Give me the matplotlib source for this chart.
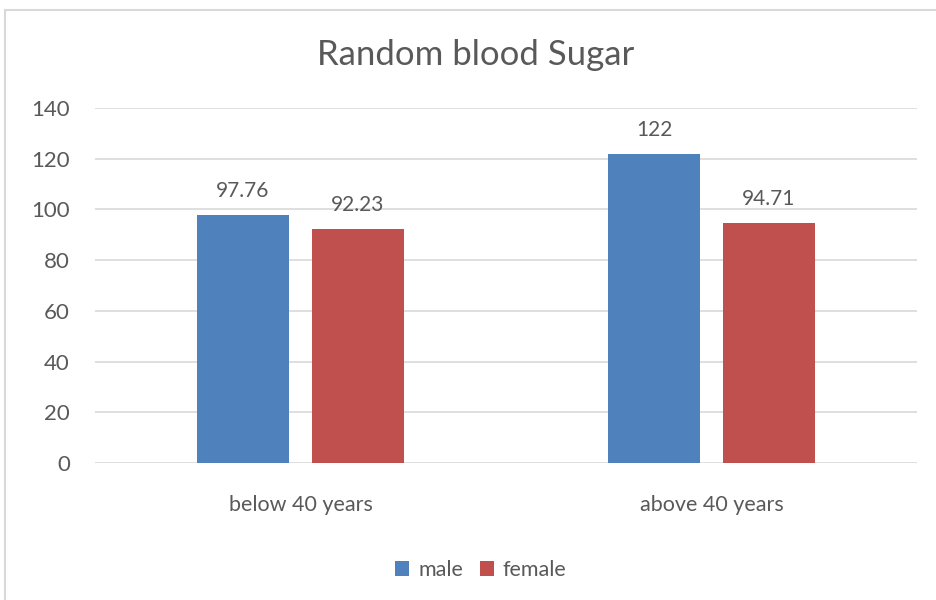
import matplotlib
matplotlib.use("Agg")
import matplotlib.pyplot as plt
import numpy as np
from matplotlib.patches import Rectangle

categories = ["below 40 years", "above 40 years"]
male = [97.76, 122]
female = [92.23, 94.71]
male_labels = ["97.76", "122"]
female_labels = ["92.23", "94.71"]

TEXT = "#595959"
BLUE = "#4F81BD"
RED = "#C0504D"

plt.rcParams["font.family"] = ["Lato", "DejaVu Sans"]

fig = plt.figure(figsize=(9.37, 6.0), dpi=100)
fig.patch.set_facecolor("white")
fig.patches.append(Rectangle((5 / 937, -0.1), 1.1, 1 - 10 / 600 + 0.1,
                             transform=fig.transFigure, fill=False,
                             edgecolor="#D9D9D9", linewidth=1.5))

ax = fig.add_axes([95 / 937, 1 - 463 / 600, 822 / 937, 355 / 600])
x = np.arange(len(categories))
w = 0.224
off = 0.14
b1 = ax.bar(x - off, male, w, color=BLUE, label="male", zorder=3)
b2 = ax.bar(x + off, female, w, color=RED, label="female", zorder=3)

for bars, labels in ((b1, male_labels), (b2, female_labels)):
    for b, lab in zip(bars, labels):
        ax.annotate(lab, (b.get_x() + b.get_width() / 2, b.get_height()),
                    xytext=(0, 10), textcoords="offset points",
                    ha="center", va="bottom", color=TEXT, fontsize=15)

ax.set_xlim(-0.5, 1.5)
ax.set_ylim(0, 140)
ax.set_yticks(range(0, 141, 20))
ax.set_xticks(x)
ax.set_xticklabels(categories)
ax.tick_params(axis="both", length=0, colors=TEXT, labelsize=15.5)
ax.tick_params(axis="y", labelsize=16, pad=18)
ax.tick_params(axis="x", pad=23)
ax.grid(axis="y", color="#D9D9D9", linewidth=1.2, zorder=1)
for s in ax.spines.values():
    s.set_visible(False)

fig.text(476 / 937, 1 - 55 / 600, "Random blood Sugar", ha="center", va="center",
         color=TEXT, fontsize=25)

fig.legend(handles=[b1, b2], loc="center", bbox_to_anchor=(481 / 937, 1 - 570 / 600),
           ncol=2, frameon=False, fontsize=15.5, labelcolor=TEXT,
           handlelength=0.65, handleheight=0.65, handletextpad=0.4, columnspacing=0.8)

fig.savefig("out.png", dpi=100, facecolor="white")
